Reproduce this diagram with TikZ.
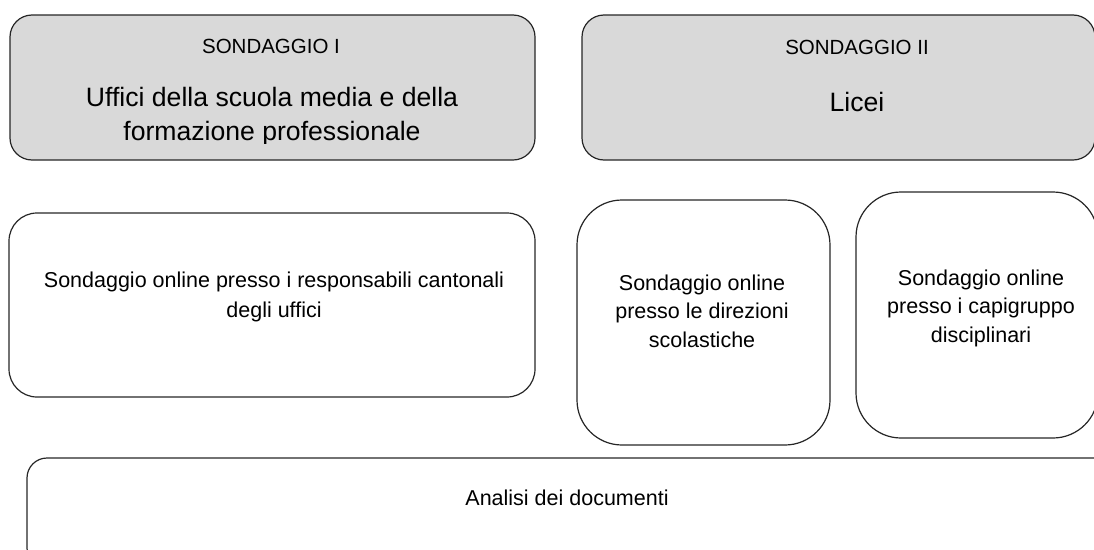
\documentclass[tikz,border=0pt]{standalone}
\usepackage{fontspec}
\setmainfont{Liberation Sans}

\begin{document}
\begin{tikzpicture}[x=1pt,y=-1pt]
\tikzset{casella/.style={draw=black!85, line width=1.2pt, rounded corners=#1, inner sep=0pt},
  grigia/.style={casella=22pt, fill=black!15},
  testo/.style={anchor=base, align=center, inner sep=0pt},
  piccolo/.style={font=\fontsize{20.5}{24}\selectfont},
  grande/.style={font=\fontsize{26.6}{34}\selectfont},
  corpo/.style={font=\fontsize{21.5}{28.5}\selectfont}}
\useasboundingbox (0,0) rectangle (1094,549);
\clip (0,0) rectangle (1094,549);
% sondaggi
\node[grigia, minimum width=525pt, minimum height=145pt] (S1) at (272.5,87.5) {};
\node[grigia, minimum width=513pt, minimum height=145pt] (S2) at (838.5,87.5) {};
\node[testo, piccolo] (S1tit) at (271,53) {SONDAGGIO I};
\node[testo, piccolo] (S2tit) at (857,54) {SONDAGGIO II};
\begin{scope}
\clip (0,0) rectangle (1094,143);
\node[testo, grande] (S1sub) at (272,140) {Uffici della scuola media e della\\formazione professionale};
\end{scope}
\node[testo, grande] (S2sub) at (857,111) {Licei};
% strumenti
\node[casella=28pt, minimum width=526pt, minimum height=184pt] (uffici) at (272,305) {};
\node[casella=45pt, minimum width=253pt, minimum height=245pt] (direzioni) at (703.5,322.5) {};
\node[casella=45pt, minimum width=242pt, minimum height=246pt] (capigruppo) at (977,315) {};
\node[casella=20pt, minimum width=1100pt, minimum height=110pt] (documenti) at (577,513) {};
\node[testo, corpo, font=\fontsize{21.5}{30}\selectfont] (ufficitxt) at (274,317)
  {Sondaggio online presso i responsabili cantonali\\degli uffici};
\node[testo, corpo] (direzionitxt) at (702,347) {Sondaggio online\\presso le direzioni\\scolastiche};
\node[testo, corpo] (capigruppotxt) at (981,342) {Sondaggio online\\presso i capigruppo\\disciplinari};
\node[testo, corpo] (documentitxt) at (567,505) {Analisi dei documenti};
\end{tikzpicture}
\end{document}
